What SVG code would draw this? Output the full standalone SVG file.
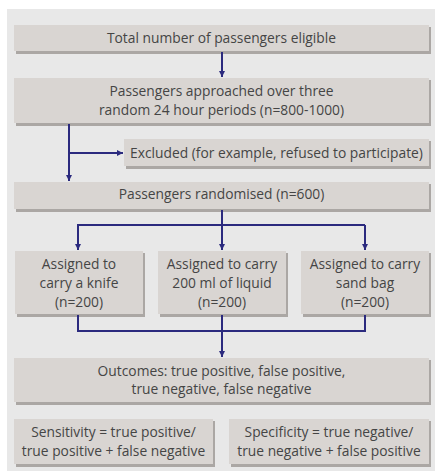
<svg xmlns="http://www.w3.org/2000/svg" width="435" height="473" viewBox="0 0 435 473">
<defs>
<marker id="ah" viewBox="0 0 10 10" refX="10" refY="5" markerWidth="8" markerHeight="6" markerUnits="userSpaceOnUse" orient="auto">
<path d="M0,0 L10,5 L0,10 Z" fill="#2b2a7e"/>
</marker>
</defs>
<style>
.box{fill:#d9d5d2}
.sh{fill:#aba7a4}
.t{font-family:"Open Sans","Liberation Sans",sans-serif;font-size:13.8px;fill:#454545;text-anchor:middle}
.c{stroke:#2b2a7e;stroke-width:2;fill:none}
.a{marker-end:url(#ah)}
</style>
<rect x="7" y="9" width="428" height="462" fill="#e8e8e8"/>
<g id="n1"><rect class="sh" x="16" y="27" width="415" height="27"/><rect class="box" x="14" y="25" width="415" height="26"/><text class="t" x="221.5" y="43">Total number of passengers eligible</text></g>
<g id="n2"><rect class="sh" x="16" y="80" width="415" height="46"/><rect class="box" x="14" y="78" width="415" height="45"/><text class="t" x="221.5" y="96">Passengers approached over three</text><text class="t" x="221.5" y="115">random 24 hour periods (n=800-1000)</text></g>
<g id="n3"><rect class="sh" x="126" y="141" width="305" height="28"/><rect class="box" x="124" y="139" width="305" height="27"/><text class="t" x="276.5" y="158">Excluded (for example, refused to participate)</text></g>
<g id="n4"><rect class="sh" x="16" y="184" width="415" height="28"/><rect class="box" x="14" y="182" width="415" height="27"/><text class="t" x="221.5" y="199">Passengers randomised (n=600)</text></g>
<g id="n5"><rect class="sh" x="17" y="253" width="128" height="64"/><rect class="box" x="15" y="251" width="128" height="63"/><text class="t" x="79" y="269">Assigned to</text><text class="t" x="79" y="288">carry a knife</text><text class="t" x="79" y="307">(n=200)</text></g>
<g id="n6"><rect class="sh" x="160" y="253" width="128" height="64"/><rect class="box" x="158" y="251" width="128" height="63"/><text class="t" x="222" y="269">Assigned to carry</text><text class="t" x="222" y="288">200 ml of liquid</text><text class="t" x="222" y="307">(n=200)</text></g>
<g id="n7"><rect class="sh" x="303" y="253" width="128" height="64"/><rect class="box" x="301" y="251" width="128" height="63"/><text class="t" x="365" y="269">Assigned to carry</text><text class="t" x="365" y="288">sand bag</text><text class="t" x="365" y="307">(n=200)</text></g>
<g id="n8"><rect class="sh" x="16" y="360" width="415" height="45"/><rect class="box" x="14" y="358" width="415" height="44"/><text class="t" x="221.5" y="376">Outcomes: true positive, false positive,</text><text class="t" x="221.5" y="394">true negative, false negative</text></g>
<g id="n9"><rect class="sh" x="16" y="421" width="199" height="46"/><rect class="box" x="14" y="419" width="199" height="45"/><text class="t" x="113.5" y="437">Sensitivity = true positive/</text><text class="t" x="113.5" y="456">true positive + false negative</text></g>
<g id="n10"><rect class="sh" x="231" y="421" width="200" height="46"/><rect class="box" x="229" y="419" width="200" height="45"/><text class="t" x="329" y="437">Specificity = true negative/</text><text class="t" x="329" y="456">true negative + false positive</text></g>
<g id="connectors">
<path class="c a" d="M222,52 V77"/>
<path class="c a" d="M69,124 V181"/>
<path class="c a" d="M69,153 H123"/>
<path class="c a" d="M222,210 V250"/>
<path class="c" d="M78,250 V225 H365"/>
<path class="c a" d="M78,225 V250"/>
<path class="c a" d="M365,225 V250"/>
<path class="c" d="M78,315 V331 H365 V315"/>
<path class="c" d="M222,315 V331"/>
<path class="c a" d="M222,331 V357"/>
</g>
</svg>
